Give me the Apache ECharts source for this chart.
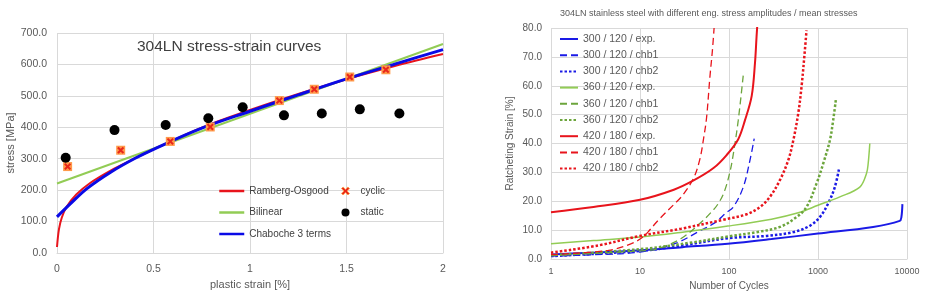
<!DOCTYPE html>
<html>
<head>
<meta charset="utf-8">
<script src="https://cdn.jsdelivr.net/npm/echarts@6/dist/echarts.min.js"></script>
<style>
  html, body { margin: 0; padding: 0; background: #fff; }
  #main { width: 928px; height: 296px; }
</style>
</head>
<body>
<div id="main"></div>
<script>
// left chart: stress [MPa] vs plastic strain [%]
const ramberg = [[0,19],[0.01,75],[0.025,113],[0.05,147],[0.1,186],[0.17,222],[0.28,263],[0.4,300],[0.5,330],[0.75,399],[1,455],[1.25,506],[1.5,553],[1.75,595],[2,633]];
const bilinear = [[0,221],[2,665]];
const chaboche = [[0,115],[0.07,157],[0.155,205],[0.28,258],[0.4,300],[0.5,330],[0.75,397],[1,451],[1.25,503],[1.5,554],[1.75,601],[2,647]];
const cyclic = [[0.055,275],[0.33,327],[0.587,355],[0.794,401],[1.152,485],[1.333,521],[1.517,560],[1.704,583]];
const staticPts = [[0.045,303],[0.298,391],[0.563,407],[0.784,429],[0.962,464],[1.176,438],[1.372,444],[1.569,457],[1.774,444]];

// right chart: ratcheting strain [%] vs number of cycles
const blueExp = [[1,1.6],[3,2.2],[10,3.0],[30,4.1],[97,5.3],[300,6.9],[1000,8.8],[4160,11.1],[8280,13.2],[8650,14.5],[8880,19.0]];
const blueChb1 = [[1,1.0],[3,1.5],[10,2.4],[24.6,5.3],[45,9.4],[69,12.5],[93,16],[112,18],[145,25],[172,34.2],[192,41.7]];
const blueChb2 = [[1,1.0],[10,2.8],[29,4.6],[97,7.2],[264,8.0],[527,9.3],[809,11.5],[1048,14.5],[1300,19.2],[1545,24.9],[1725,31.3]];
const greenExp = [[1,5.3],[3,6.4],[10,7.6],[30,9.3],[97,11.4],[300,13.8],[600,16.0],[1000,18.6],[1760,21.5],[2950,24.9],[3505,29.6],[3660,33],[3820,40]];
const greenChb1 = [[1,1.2],[10,2.8],[16,3.6],[29,7.1],[49,12.8],[61,15.7],[75,19],[89,23.5],[103,30.5],[112,36.5],[127,48],[145,64]];
const greenChb2 = [[1,1.3],[10,3.4],[40,5.8],[97,7.8],[204,9.3],[373,11.1],[574,14.5],[743,18.0],[962,26.1],[1143,33],[1360,41.1],[1480,48],[1585,55]];
const redExp = [[1,16.2],[3,18],[10,20.5],[24,24],[40,27.2],[67,31.5],[94,36],[127,41.5],[151,48],[180,56.5],[196,68],[204,77],[208,81]];
const redChb1 = [[1,1.5],[4.4,3.0],[8,5.3],[10.8,7.6],[12.4,9.5],[16,13.4],[24.6,19.2],[30,22],[40,28],[47,34.5],[52,42],[56,49],[61,63],[65,72],[68,80]];
const redChb2 = [[1,2.2],[3.4,4.7],[10,8.0],[29,10.5],[89,13.7],[158,15.5],[223,18],[288,21.5],[373,27.3],[463,34.2],[527,41],[599,50.3],[653,59.6],[712,72.3],[743,79.2]];

const leftTicks = ['0', '0.5', '1', '1.5', '2'];
const rightTicks = ['1', '10', '100', '1000', '10000'];

const xPath = 'path://M0,2 L2,0 L5,3 L8,0 L10,2 L7,5 L10,8 L8,10 L5,7 L2,10 L0,8 L3,5 Z';
const gridColor = '#d9d9d9';
const labelColor = '#595959';

var chart = echarts.init(document.getElementById('main'));

let lineSeries = (name, data, color, width, type, xi) => ({
  name: name,
  type: 'line',
  xAxisIndex: xi,
  yAxisIndex: xi,
  data: data,
  symbol: 'none',
  smooth: 0.35,
  lineStyle: { color: color, width: width, type: type, cap: 'butt' },
  itemStyle: { color: color },
  animation: false
});

const blue = '#1a1ae6', red = '#e8141c', greenLight = '#92cc55', greenDark = '#6ca53c';

var option = {
  animation: false,
  textStyle: { fontFamily: 'Liberation Sans' },
  title: [
    { text: '304LN stress-strain curves', left: 137, top: 39, padding: 0,
      textStyle: { fontSize: 15.5, fontWeight: 'normal', color: '#404040' } },
    { text: '304LN stainless steel with different eng. stress amplitudes / mean stresses', left: 560, top: 9, padding: 0,
      textStyle: { fontSize: 9, fontWeight: 'normal', color: labelColor } }
  ],
  legend: [
    { data: ['Ramberg-Osgood', 'Bilinear', 'Chaboche 3 terms'], orient: 'vertical', left: 218, top: 184, padding: 0,
      itemWidth: 25, itemHeight: 14, itemGap: 7.5, itemStyle: { opacity: 0 },
      lineStyle: { width: 2.5 },
      textStyle: { fontSize: 10, color: '#404040', lineHeight: 14 } },
    { data: [{ name: 'cyclic', icon: xPath, itemStyle: { color: '#e8261c', borderColor: '#ff9a4a', borderWidth: 1 } }, { name: 'static', icon: 'circle' }],
      orient: 'vertical', left: 341, top: 184, padding: 0,
      itemWidth: 20, itemHeight: 8, itemGap: 7.5,
      textStyle: { fontSize: 10, color: '#404040', lineHeight: 14 } },
    { data: ['300 / 120 / exp.', '300 / 120 / chb1', '300 / 120 / chb2', '360 / 120 / exp.', '360 / 120 / chb1', '360 / 120 / chb2', '420 / 180 / exp.', '420 / 180 / chb1', '420 / 180 / chb2'],
      orient: 'vertical', left: 559, top: 32, padding: 0,
      itemWidth: 18, itemHeight: 14, itemGap: 2.2, itemStyle: { opacity: 0 },
      textStyle: { fontSize: 10.5, color: labelColor, lineHeight: 14 } }
  ],
  grid: [
    { left: 57, top: 33, width: 386, height: 220 },
    { left: 551, top: 28, width: 356, height: 231 }
  ],
  xAxis: [
    { type: 'value', gridIndex: 0, min: 0, max: 2, interval: 0.5,
      name: 'plastic strain [%]', nameLocation: 'middle', nameGap: 24,
      nameTextStyle: { fontSize: 11, color: labelColor },
      axisLine: { lineStyle: { color: gridColor } }, axisTick: { show: false },
      axisLabel: { fontSize: 10.5, color: labelColor, margin: 11, formatter: (v) => leftTicks[Math.round(v * 2)] },
      splitLine: { lineStyle: { color: gridColor } } },
    { type: 'log', gridIndex: 1, logBase: 10, min: 1, max: 10000,
      name: 'Number of Cycles', nameLocation: 'middle', nameGap: 20,
      nameTextStyle: { fontSize: 10, color: labelColor },
      axisLine: { lineStyle: { color: gridColor } }, axisTick: { show: false },
      axisLabel: { fontSize: 9, color: labelColor, margin: 8, formatter: (v) => rightTicks[Math.round(Math.log10(v))] },
      splitLine: { lineStyle: { color: gridColor } }, minorSplitLine: { show: false } }
  ],
  yAxis: [
    { type: 'value', gridIndex: 0, min: 0, max: 700, interval: 100,
      name: 'stress [MPa]', nameLocation: 'middle', nameGap: 40,
      nameTextStyle: { fontSize: 11, color: labelColor },
      axisLine: { show: false }, axisTick: { show: false },
      axisLabel: { fontSize: 10.5, color: labelColor, margin: 10, formatter: (v) => v.toFixed(1) },
      splitLine: { lineStyle: { color: gridColor } } },
    { type: 'value', gridIndex: 1, min: 0, max: 80, interval: 10,
      name: 'Ratcheting Strain [%]', nameLocation: 'middle', nameGap: 36,
      nameTextStyle: { fontSize: 10, color: labelColor },
      axisLine: { show: false }, axisTick: { show: false },
      axisLabel: { fontSize: 10, color: labelColor, margin: 9, formatter: (v) => v.toFixed(1) },
      splitLine: { lineStyle: { color: gridColor } } }
  ],
  series: [
    lineSeries('Bilinear', bilinear, greenLight, 2, 'solid', 0),
    lineSeries('Ramberg-Osgood', ramberg, red, 2, 'solid', 0),
    lineSeries('Chaboche 3 terms', chaboche, '#0a0ae6', 3, 'solid', 0),
    { name: 'cyclic', type: 'scatter', xAxisIndex: 0, yAxisIndex: 0, data: cyclic,
      symbol: 'rect', symbolSize: 9, itemStyle: { color: '#ff9a4a', opacity: 1 }, z: 4 },
    { name: 'cyclicX', type: 'scatter', xAxisIndex: 0, yAxisIndex: 0, data: cyclic,
      symbol: xPath, symbolSize: 7, itemStyle: { color: '#e8261c', opacity: 1 }, z: 5 },
    { name: 'static', type: 'scatter', xAxisIndex: 0, yAxisIndex: 0, data: staticPts,
      symbol: 'circle', symbolSize: 10, itemStyle: { color: '#000', opacity: 1 }, z: 4 },

    lineSeries('300 / 120 / exp.', blueExp, blue, 2, 'solid', 1),
    lineSeries('300 / 120 / chb1', blueChb1, blue, 1.3, [7, 4], 1),
    lineSeries('300 / 120 / chb2', blueChb2, blue, 2.5, [2.5, 2], 1),
    lineSeries('360 / 120 / exp.', greenExp, greenLight, 1.5, 'solid', 1),
    lineSeries('360 / 120 / chb1', greenChb1, greenDark, 1.3, [7, 4], 1),
    lineSeries('360 / 120 / chb2', greenChb2, greenDark, 2.5, [2.5, 2], 1),
    lineSeries('420 / 180 / exp.', redExp, red, 2, 'solid', 1),
    lineSeries('420 / 180 / chb1', redChb1, red, 1.3, [7, 4], 1),
    lineSeries('420 / 180 / chb2', redChb2, red, 2.5, [2.5, 2], 1)
  ]
};

chart.setOption(option);
</script>
</body>
</html>
